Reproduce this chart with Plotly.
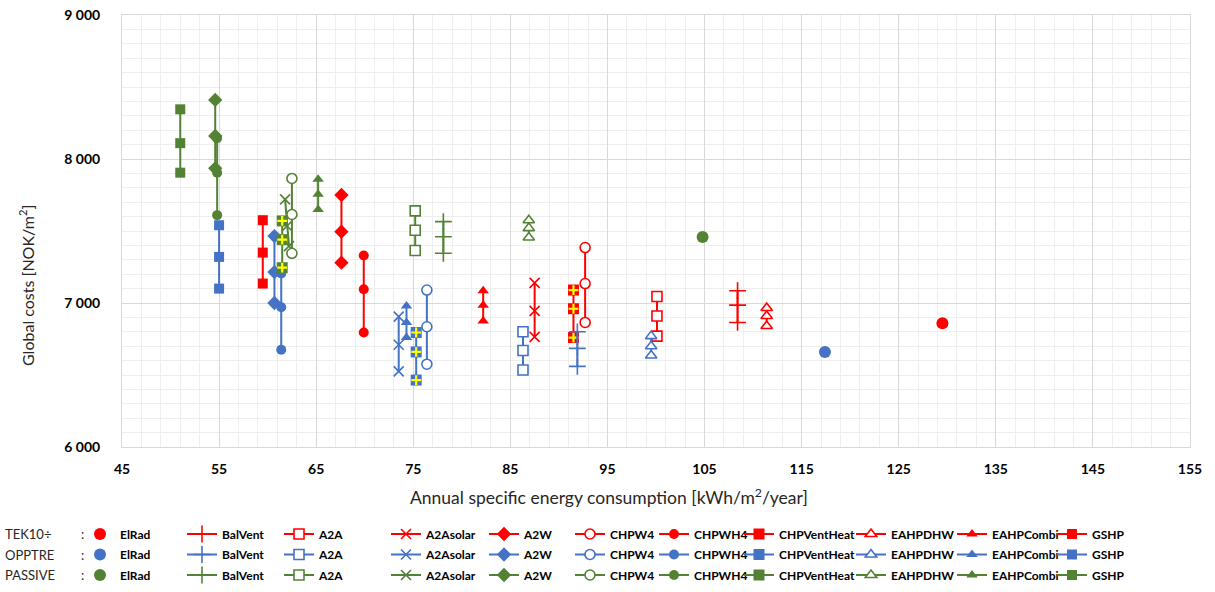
import plotly.graph_objects as go

# ---------------- data ----------------
SYSTEMS = ["ElRad", "BalVent", "A2A", "A2Asolar", "A2W", "CHPW4", "CHPWH4",
           "CHPVentHeat", "EAHPDHW", "EAHPCombi", "GSHP"]
LEVELS = ["TEK10÷", "OPPTRE", "PASSIVE"]

# Annual specific energy consumption [kWh/m2/year], one list per system
TEK10_X = [[129.5], [108.4, 108.4, 108.4], [100.1, 100.1, 100.1], [87.5, 87.5, 87.5],
           [67.6, 67.6, 67.6], [92.7, 92.7, 92.7], [69.9, 69.9, 69.9], [91.5, 91.5, 91.5],
           [111.4, 111.4, 111.4], [82.2, 82.2, 82.2], [59.5, 59.5, 59.5]]
TEK10_Y = [[6860], [7085, 6985, 6865], [7045, 6910, 6770], [7140, 6945, 6765],
           [7750, 7495, 7280], [7385, 7135, 6865], [7330, 7095, 6795], [7090, 6960, 6760],
           [6965, 6910, 6840], [7085, 6985, 6875], [7575, 7350, 7135]]

OPPTRE_X = [[117.4], [91.9, 91.9, 91.9], [86.3, 86.3, 86.3], [73.5, 73.5, 73.5],
            [60.7, 60.7, 60.7], [76.4, 76.4, 76.4], [61.4, 61.4, 61.4], [75.3, 75.3, 75.3],
            [99.5, 99.5, 99.5], [74.3, 74.3, 74.3], [55.0, 55.0, 55.0]]
OPPTRE_Y = [[6660], [6800, 6685, 6560], [6800, 6670, 6535], [6905, 6710, 6525],
            [7465, 7215, 7000], [7090, 6835, 6575], [7205, 6970, 6675], [6795, 6660, 6465],
            [6770, 6700, 6635], [6980, 6865, 6760], [7540, 7320, 7100]]

PASSIVE_X = [[104.8], [78.1, 78.1, 78.1], [75.2, 75.2, 75.2], [61.8, 62.0, 62.2],
             [54.6, 54.6, 54.6], [62.5, 62.5, 62.5], [54.8, 54.8, 54.8], [61.5, 61.5, 61.5],
             [86.9, 86.9, 86.9], [65.2, 65.2, 65.2], [51.0, 51.0, 51.0]]
PASSIVE_Y = [[7458], [7565, 7460, 7345], [7640, 7505, 7365], [7720, 7535, 7395],
             [8410, 8160, 7935], [7865, 7615, 7345], [8145, 7905, 7610], [7570, 7440, 7245],
             [7575, 7520, 7455], [7860, 7755, 7650], [8345, 8110, 7905]]

X_TICKS = [45, 55, 65, 75, 85, 95, 105, 115, 125, 135, 145, 155]
Y_TICKS = [6000, 7000, 8000, 9000]

XS = [TEK10_X, OPPTRE_X, PASSIVE_X]
YS = [TEK10_Y, OPPTRE_Y, PASSIVE_Y]

# ---------------- style ----------------
COLORS = ["#FF0000", "#4472C4", "#548235"]
FONT = "Lato"
STYLE = {
    "ElRad":       dict(symbol="circle", size=12, fill=True, lw=0),
    "BalVent":     dict(symbol="cross-thin", size=12, fill=True, lw=1.6),
    "A2A":         dict(symbol="square", size=10, fill=False, lw=1.6),
    "A2Asolar":    dict(symbol="x-thin", size=10, fill=True, lw=1.6),
    "A2W":         dict(symbol="diamond", size=11, fill=True, lw=0),
    "CHPW4":       dict(symbol="circle", size=10, fill=False, lw=1.6),
    "CHPWH4":      dict(symbol="circle", size=10, fill=True, lw=0),
    "CHPVentHeat": dict(symbol="square", size=11, fill=True, lw=0),
    "EAHPDHW":     dict(symbol="triangle-up", size=10, fill=False, lw=1.6),
    "EAHPCombi":   dict(symbol="triangle-up", size=10, fill=True, lw=0),
    "GSHP":        dict(symbol="square", size=10, fill=True, lw=0),
}

W, H = 1215, 592
ML, MR, MT, MB = 122, 25, 15, 145
PW, PH = W - ML - MR, H - MT - MB


def px_x(p):
    return (p - ML) / PW


def px_y(p):
    return (H - MB - p) / PH


fig = go.Figure()

for li, level in enumerate(LEVELS):
    col = COLORS[li]
    for si, sysname in enumerate(SYSTEMS):
        st = STYLE[sysname]
        lid = "legend" if si == 0 else f"legend{si + 1}"
        marker = dict(symbol=st["symbol"], size=st["size"],
                      color=col if st["fill"] else "white",
                      line=dict(color=col, width=st["lw"]))
        fig.add_trace(go.Scatter(
            x=XS[li][si], y=YS[li][si],
            mode="markers" if sysname == "ElRad" else "lines+markers",
            name=sysname, legend=lid, legendgroup=f"{level}-{sysname}",
            marker=marker, line=dict(color=col, width=2),
            hovertemplate=f"{level} {sysname}<br>%{{x}} kWh/m²/year<br>%{{y}} NOK/m²<extra></extra>",
        ))
        if sysname == "CHPVentHeat":
            fig.add_trace(go.Scatter(
                x=XS[li][si], y=YS[li][si], mode="markers",
                showlegend=False, legend=lid, legendgroup=f"{level}-{sysname}",
                marker=dict(symbol="cross-thin", size=7, color="#FFFF00",
                            line=dict(color="#FFFF00", width=2.2)),
                hoverinfo="skip",
            ))

# legends: one column per system (x = pixel where the entry text starts)
TEXT_STARTS = [118, 220, 317, 424, 522, 608, 692, 777, 889, 990, 1090]
legends = {}
for si, ts in enumerate(TEXT_STARTS):
    lid = "legend" if si == 0 else f"legend{si + 1}"
    legends[lid] = dict(
        x=px_x(ts - 38), y=px_y(519.5), xanchor="left", yanchor="top",
        orientation="v", bgcolor="rgba(0,0,0,0)", borderwidth=0,
        font=dict(family=FONT, size=12, color="#000000", weight="bold"),
        traceorder="grouped", tracegroupgap=1.5,
    )

annotations = [
    dict(text="Annual specific energy consumption [kWh/m<sup>2</sup>/year]",
         x=px_x(609), y=px_y(496), xref="paper", yref="paper",
         xanchor="center", yanchor="middle", showarrow=False,
         font=dict(family=FONT, size=17.5, color="#262626")),
    dict(text="Global costs [NOK/m<sup>2</sup>]", textangle=-90,
         x=px_x(26), y=px_y(286), xref="paper", yref="paper",
         xanchor="center", yanchor="middle", showarrow=False,
         font=dict(family=FONT, size=16, color="#262626")),
]
for ri, level in enumerate(LEVELS):
    ypx = 534 + ri * 20.5
    annotations.append(dict(text=level, x=px_x(3), y=px_y(ypx), xref="paper", yref="paper",
                            xanchor="left", yanchor="middle", showarrow=False,
                            font=dict(family=FONT, size=13, color="#262626")))
    annotations.append(dict(text=":", x=px_x(82), y=px_y(ypx), xref="paper", yref="paper",
                            xanchor="center", yanchor="middle", showarrow=False,
                            font=dict(family=FONT, size=13, color="#262626")))

fig.update_layout(
    width=W, height=H,
    margin=dict(l=ML, r=MR, t=MT, b=MB, autoexpand=False),
    paper_bgcolor="white", plot_bgcolor="white",
    separators=", ",
    font=dict(family=FONT, color="#000000"),
    annotations=annotations,
    **legends,
)
fig.update_xaxes(
    range=[45, 155], tickmode="array", tickvals=X_TICKS,
    showgrid=True, gridcolor="#d9d9d9", gridwidth=1.3,
    minor=dict(tick0=45, dtick=2, showgrid=True, gridcolor="#eeeeee", gridwidth=1),
    showline=True, linecolor="#d9d9d9", linewidth=1, mirror=True,
    zeroline=False, ticks="", ticklabelstandoff=9,
    tickfont=dict(family=FONT, size=14, color="#000000", weight="bold"),
)
fig.update_yaxes(
    range=[6000, 9000], tickmode="array", tickvals=Y_TICKS, tickformat=",d",
    showgrid=True, gridcolor="#d9d9d9", gridwidth=1.3,
    minor=dict(tick0=6000, dtick=100, showgrid=True, gridcolor="#eeeeee", gridwidth=1),
    showline=True, linecolor="#d9d9d9", linewidth=1, mirror=True,
    zeroline=False, ticks="", ticklabelstandoff=18,
    tickfont=dict(family=FONT, size=14, color="#000000", weight="bold"),
)

fig.write_html("out.html")
